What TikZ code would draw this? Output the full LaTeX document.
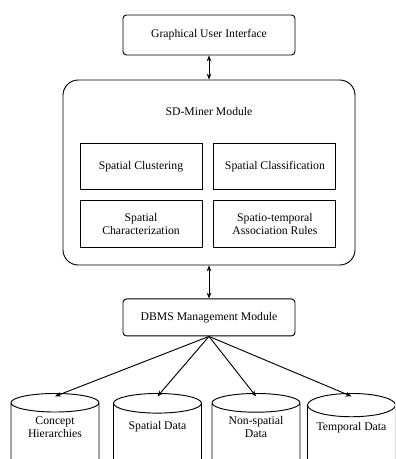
\documentclass[tikz,border=0pt]{standalone}
\usepackage{fontspec}
\setmainfont{Liberation Serif}
\usepackage{tikz}
\usetikzlibrary{calc}
\usetikzlibrary{positioning}
\usetikzlibrary{shapes.geometric}
\usetikzlibrary{arrows.meta}

\begin{document}
\begin{tikzpicture}[box/.style={draw,thick,align=center,font=\fontsize{10}{11}\selectfont},
  inner/.style={box,minimum width=3.66cm,minimum height=1.4cm},
  db/.style={cylinder,shape border rotate=90,draw,thick,aspect=0.3,minimum width=2.64cm,minimum height=2.4cm,align=center,text depth=0.9cm,font=\fontsize{10}{11}\selectfont,anchor=north},
  arr/.style={thick,-{Stealth[length=5pt,width=4pt]}},
  darr/.style={thick,{Stealth[length=5pt,width=4pt]}-{Stealth[length=5pt,width=4pt]}}]
\clip (0,0) rectangle (11.85,-13.77);

\node[box,rounded corners=3pt,minimum width=5.16cm,minimum height=1.2cm] (gui) at (6.27,-1.05) {Graphical User Interface};
\node[box,rounded corners=13pt,minimum width=8.76cm,minimum height=5.55cm] (miner) at (6.27,-5.175) {};
\node[below=0.7cm of miner.north,font=\fontsize{10}{11}\selectfont] (title) {SD-Miner Module};

\node[inner] (clus) at (4.23,-4.995) {Spatial Clustering};
\node[inner,right=0.33cm of clus] (class) {Spatial Classification};
\node[inner,below=0.3cm of clus] (char) {Spatial\\Characterization};
\node[inner,below=0.3cm of class] (assoc) {Spatio-temporal\\Association Rules};

\node[box,rounded corners=3pt,minimum width=5.16cm,minimum height=1.11cm,below=0.99cm of miner] (dbms) {DBMS Management Module};

\node[db] (hier) at (1.65,-11.79) {Concept\\Hierarchies};
\node[db] (spat) at (4.725,-11.79) {Spatial Data};
\node[db] (nonsp) at (7.68,-11.79) {Non-spatial\\Data};
\node[db] (temp) at (10.545,-11.79) {Temporal Data};

\draw[darr] (gui) -- (miner);
\draw[darr] (miner) -- (dbms);
\foreach \c in {hier,spat,nonsp,temp}
  \draw[arr] (dbms.south) -- ($(\c.north)+(0,-0.1)$);
\end{tikzpicture}
\end{document}
